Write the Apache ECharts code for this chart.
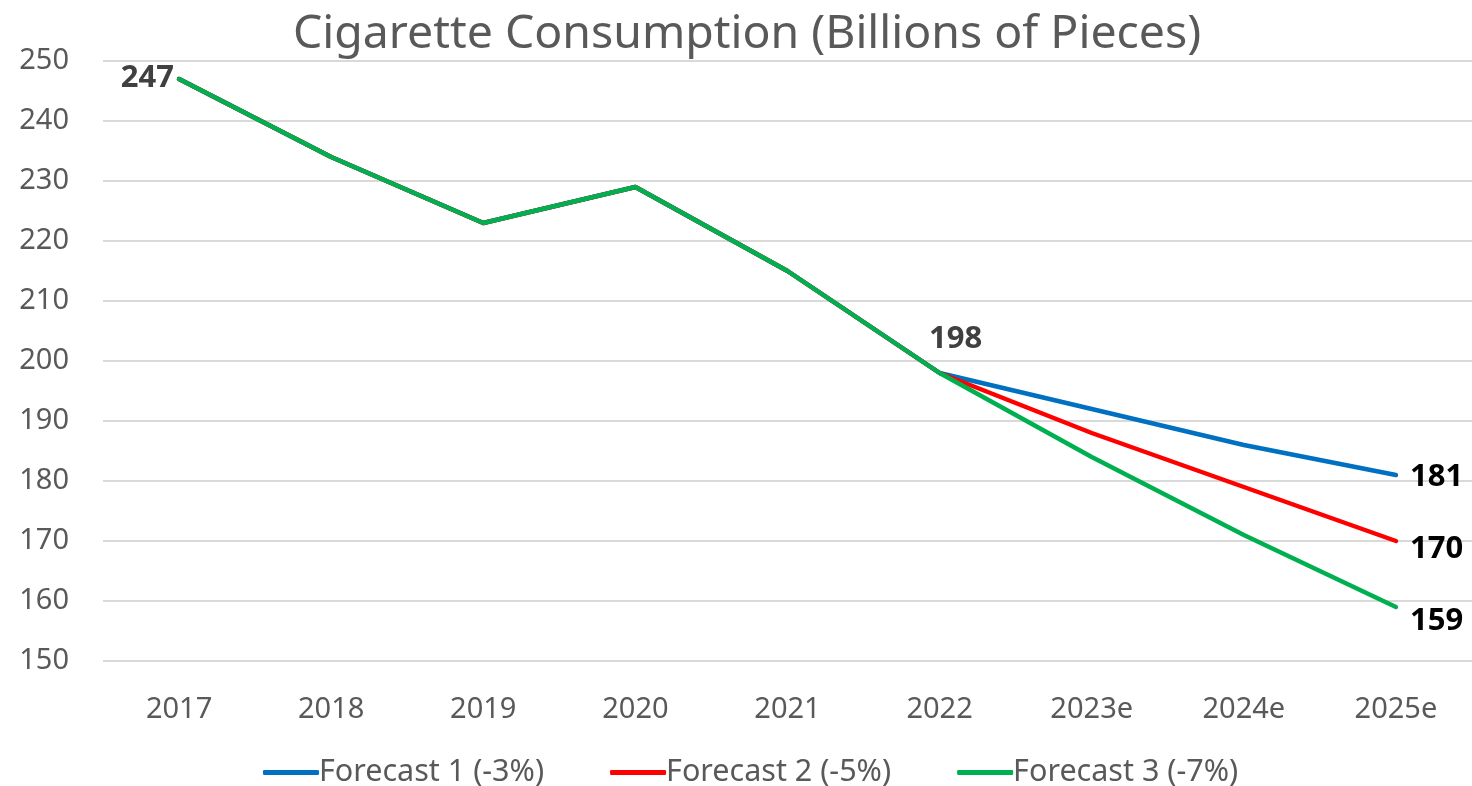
<!DOCTYPE html>
<html><head><meta charset="utf-8">
<script src="https://cdn.jsdelivr.net/npm/echarts@6/dist/echarts.min.js"></script>
<style>html,body{margin:0;padding:0;background:#fff}#c{width:1472px;height:786px}</style>
</head><body><div id="c"></div>
<script>
const categories = ['2017','2018','2019','2020','2021','2022','2023e','2024e','2025e'];
const history = [247, 234, 223, 229, 215, 198];
const forecast1 = [192, 186, 181];
const forecast2 = [188, 179, 170];
const forecast3 = [184, 171, 159];
const seriesNames = ['Forecast 1 (-3%)', 'Forecast 2 (-5%)', 'Forecast 3 (-7%)'];
const colors = ['#0070C0', '#FF0000', '#00B050'];
const yTicks = {min: 150, max: 250, interval: 10};

const FONT = '"Noto Sans", "Open Sans", sans-serif';
const forecasts = [forecast1, forecast2, forecast3];
const lastIdx = categories.length - 1;

function buildData(fc, si) {
  const all = history.concat(fc);
  return all.map((v, i) => {
    const d = {value: v};
    if (i === lastIdx) {
      d.label = {show: true, position: 'right', distance: 14, color: '#000', fontWeight: 'bold', fontSize: 31, fontFamily: FONT,
                 offset: si === 2 ? [0, 14] : (si === 1 ? [0, 8] : [0, 2])};
    } else if (si === 2 && i === 0) {
      d.label = {show: true, position: 'left', distance: 5, color: '#404040', fontWeight: 'bold', fontSize: 31, fontFamily: FONT, offset: [0, -1]};
    } else if (si === 2 && i === 5) {
      d.label = {show: true, position: 'top', distance: 18, color: '#404040', fontWeight: 'bold', fontSize: 31, fontFamily: FONT, offset: [16, 0]};
    }
    return d;
  });
}

const chart = echarts.init(document.getElementById('c'));
chart.setOption({
  animation: false,
  title: {text: 'Cigarette Consumption (Billions of Pieces)', left: 288, top: 7,
          textStyle: {fontFamily: FONT, fontSize: 46.4, fontWeight: 'normal', color: '#595959'}},
  grid: {left: 103, right: -5, top: 61, bottom: 125},
  legend: {top: 752, left: 258, itemWidth: 56, itemHeight: 5, itemGap: 66, icon: 'roundRect',
           textStyle: {fontFamily: FONT, fontSize: 30.5, color: '#595959', padding: [0, 0, 0, -5]},
           data: seriesNames},
  xAxis: {type: 'category', data: categories, boundaryGap: true,
          axisLine: {show: false}, axisTick: {show: false},
          axisLabel: {margin: 34, fontFamily: FONT, fontSize: 29, color: '#595959'}},
  yAxis: {type: 'value', min: yTicks.min, max: yTicks.max, interval: yTicks.interval,
          axisLine: {show: false}, axisTick: {show: false},
          splitLine: {lineStyle: {color: '#D9D9D9', width: 2}},
          axisLabel: {margin: 34, fontFamily: FONT, fontSize: 29, color: '#595959'}},
  series: forecasts.map((fc, si) => ({
    name: seriesNames[si], type: 'line', data: buildData(fc, si),
    symbol: 'circle', symbolSize: 0.1, showSymbol: true,
    lineStyle: {color: colors[si], width: 4.5, cap: 'round', join: 'round'},
    itemStyle: {color: colors[si]}, z: 2 + si
  }))
});
</script></body></html>
